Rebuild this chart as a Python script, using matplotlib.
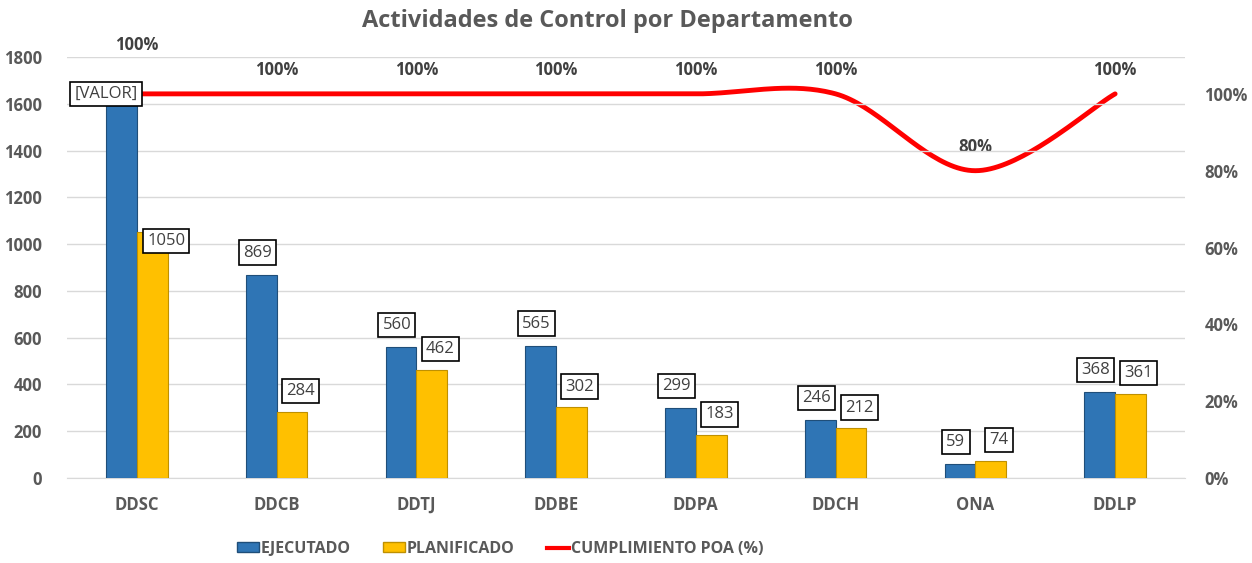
import numpy as np
import matplotlib.pyplot as plt
from matplotlib.patches import Patch
from matplotlib.lines import Line2D
from matplotlib.ticker import FuncFormatter

plt.rcParams['font.family'] = ['Open Sans', 'DejaVu Sans']

# data
departamentos = ['DDSC', 'DDCB', 'DDTJ', 'DDBE', 'DDPA', 'DDCH', 'ONA', 'DDLP']
ejecutado = [1600, 869, 560, 565, 299, 246, 59, 368]
planificado = [1050, 284, 462, 302, 183, 212, 74, 361]
cumplimiento = [1.00, 1.00, 1.00, 1.00, 1.00, 1.00, 0.80, 1.00]

gris = '#595959'
azul = '#2F75B5'
amarillo = '#FFC000'


def suavizar(xs, ys, n=40):
    # excel-like smoothed line (catmull-rom through the points)
    px = np.concatenate([[xs[0]], xs, [xs[-1]]])
    py = np.concatenate([[ys[0]], ys, [ys[-1]]])
    outx, outy = [], []
    t = np.linspace(0, 1, n)
    for i in range(1, len(px) - 2):
        for p, out in ((px, outx), (py, outy)):
            p0, p1, p2, p3 = p[i - 1], p[i], p[i + 1], p[i + 2]
            m1 = (p2 - p0) / 2.0
            m2 = (p3 - p1) / 2.0
            h00 = 2 * t**3 - 3 * t**2 + 1
            h10 = t**3 - 2 * t**2 + t
            h01 = -2 * t**3 + 3 * t**2
            h11 = t**3 - t**2
            out.extend(h00 * p1 + h10 * m1 + h01 * p2 + h11 * m2)
    return np.array(outx), np.array(outy)


fig = plt.figure(figsize=(12.52, 5.63), dpi=100)
ax = fig.add_axes([67 / 1252, 1 - 478 / 563, (1185 - 67) / 1252, (478 - 57) / 563])
ax2 = ax.twinx()

x = np.arange(len(departamentos))
w = 0.22
b1 = ax.bar(x - w / 2, ejecutado, w, color=azul, edgecolor='#1F4E79', linewidth=0.8, zorder=3)
b2 = ax.bar(x + w / 2, planificado, w, color=amarillo, edgecolor='#BF9000', linewidth=0.8, zorder=3)

caja = dict(boxstyle='square,pad=0.25', fc='white', ec='black', lw=1.2)
for i, v in enumerate(ejecutado):
    txt = '[VALOR]' if i == 0 else str(v)
    dx, dy = (-11, 7) if i == 0 else (-3, 16)
    ax.annotate(txt, (x[i] - w / 2, v), xytext=(dx, dy), textcoords='offset points',
                ha='center', va='center', fontsize=12, color='#404040', bbox=caja, zorder=6)
for i, v in enumerate(planificado):
    dx, dy = (10, -6) if i == 0 else (6, 15)
    ax.annotate(str(v), (x[i] + w / 2, v), xytext=(dx, dy), textcoords='offset points',
                ha='center', va='center', fontsize=12, color='#404040', bbox=caja, zorder=6)

ax.set_xlim(-0.5, len(departamentos) - 0.5)
ax.set_ylim(0, 1800)
ax.set_yticks(range(0, 1801, 200))
ax.set_xticks(x)
ax.set_xticklabels(departamentos)
ax.grid(axis='y', color='#D9D9D9', lw=1, zorder=0)
ax.set_axisbelow(True)
for s in ['top', 'left', 'right']:
    ax.spines[s].set_visible(False)
ax.spines['bottom'].set_color('#D9D9D9')
ax.tick_params(axis='both', length=0, labelsize=12, labelcolor=gris)
ax.tick_params(axis='x', pad=13)
ax.tick_params(axis='y', pad=18)
for lab in ax.get_xticklabels() + ax.get_yticklabels():
    lab.set_fontweight('bold')

# secondary axis: cumplimiento
sx, sy = suavizar(x.astype(float), np.array(cumplimiento))
ax2.plot(sx, sy, color='#FF0000', lw=3.5, zorder=5, solid_capstyle='round')
for i, v in enumerate(cumplimiento):
    dy = 35 if i == 0 else 17
    ax2.annotate(f'{v:.0%}', (x[i], v), xytext=(0, dy), textcoords='offset points',
                 ha='center', va='center', fontsize=12, fontweight='bold', color='#404040')
ax2.set_ylim(0, 1.096)
ax2.set_yticks(np.arange(0, 1.01, 0.2))
ax2.yaxis.set_major_formatter(FuncFormatter(lambda v, p: f'{v:.0%}'))
for s in ['top', 'left', 'right', 'bottom']:
    ax2.spines[s].set_visible(False)
ax2.tick_params(axis='y', length=0, labelsize=12, labelcolor=gris, pad=14)
for lab in ax2.get_yticklabels():
    lab.set_fontweight('bold')
ax.set_zorder(ax2.get_zorder() + 1)
ax.patch.set_visible(False)

fig.text(607 / 1252, 1 - 21 / 563, 'Actividades de Control por Departamento',
         ha='center', va='center', fontsize=17, fontweight='bold', color=gris)

handles = [Patch(fc=azul, ec='#1F4E79'), Patch(fc=amarillo, ec='#BF9000'),
           Line2D([], [], color='#FF0000', lw=3)]
leg = fig.legend(handles, ['EJECUTADO', 'PLANIFICADO', 'CUMPLIMIENTO POA (%)'],
                 loc='center', bbox_to_anchor=(500 / 1252, 1 - 549 / 563), ncol=3,
                 frameon=False, handlelength=1.4, handleheight=0.6, handletextpad=0.1,
                 columnspacing=2.0, prop={'size': 11.5, 'weight': 'bold'})
for t in leg.get_texts():
    t.set_color(gris)

fig.savefig('out.png', dpi=100)
